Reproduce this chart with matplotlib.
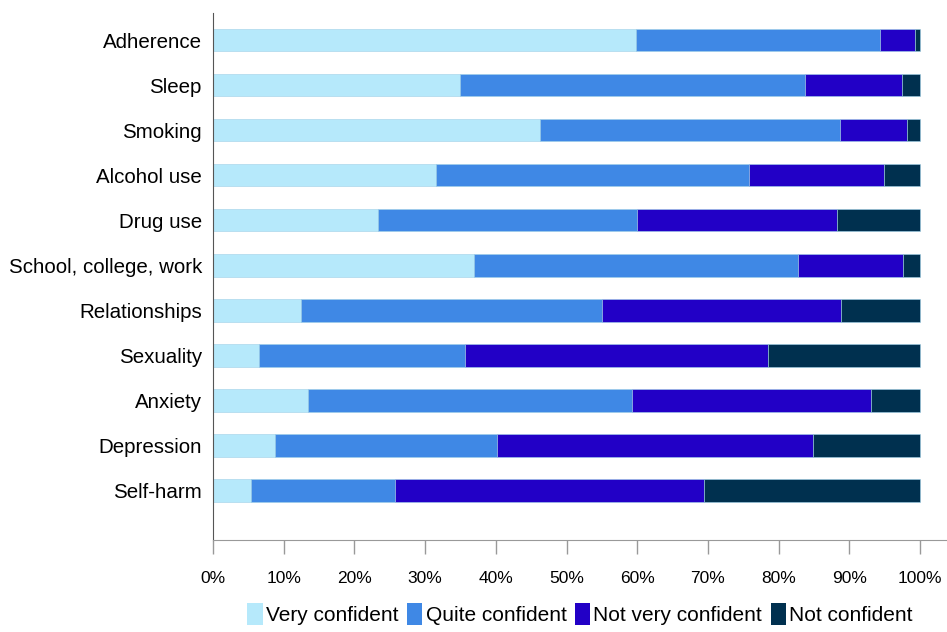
import numpy as np
import matplotlib.pyplot as plt
from matplotlib.patches import Patch

topics = ["Adherence", "Sleep", "Smoking", "Alcohol use", "Drug use",
          "School, college, work", "Relationships", "Sexuality",
          "Anxiety", "Depression", "Self-harm"]

# percentages per topic, left to right
very_confident = [59.8, 35.0, 46.2, 31.5, 23.4, 36.9, 12.5, 6.5, 13.4, 8.7, 5.4]
quite_confident = [34.5, 48.8, 42.5, 44.3, 36.6, 45.8, 42.5, 29.2, 45.9, 31.4, 20.4]
not_very_confident = [5.0, 13.7, 9.4, 19.1, 28.3, 14.9, 33.8, 42.8, 33.7, 44.7, 43.7]
not_confident = [0.7, 2.5, 1.9, 5.1, 11.7, 2.4, 11.2, 21.5, 7.0, 15.2, 30.5]

series = ["Very confident", "Quite confident", "Not very confident", "Not confident"]
colors = ["#B6E9FB", "#3F88E5", "#2200C6", "#00304F"]

plt.rcParams["font.family"] = ["Liberation Sans", "DejaVu Sans"]

fig = plt.figure(figsize=(9.47, 6.32), dpi=100)
ax = fig.add_axes([213 / 947, 1 - 540 / 632, 734 / 947, 527 / 632])

y = np.arange(len(topics))
left = np.zeros(len(topics))
for vals, col in zip([very_confident, quite_confident, not_very_confident, not_confident], colors):
    vals = np.array(vals)
    ax.barh(y, vals, left=left, height=0.5, color=col, edgecolor="#9fd0e8", linewidth=0.4)
    left += vals

ax.set_xlim(0, 100 * 734 / 707)
ax.set_ylim(11.1, -0.6)
ax.set_xticks(np.arange(0, 101, 10))
ax.set_xticklabels([f"{v}%" for v in range(0, 101, 10)], fontsize=12.5)
ax.set_yticks(y)
ax.set_yticklabels(topics, fontsize=14.8)
ax.tick_params(axis="y", length=0, pad=8)
ax.tick_params(axis="x", length=10, width=1, color="#999999", pad=12)

for side in ["top", "right"]:
    ax.spines[side].set_visible(False)
ax.spines["left"].set_color("#555555")
ax.spines["bottom"].set_color("#999999")

handles = [Patch(facecolor=c, edgecolor="none") for c in colors]
fig.legend(handles, series, loc="center", bbox_to_anchor=(580 / 947, 1 - 614 / 632),
           ncol=4, frameon=False, fontsize=15, handlelength=0.75, handleheight=1.3,
           handletextpad=0.15, columnspacing=0.4)

fig.savefig("out.png", dpi=100)
